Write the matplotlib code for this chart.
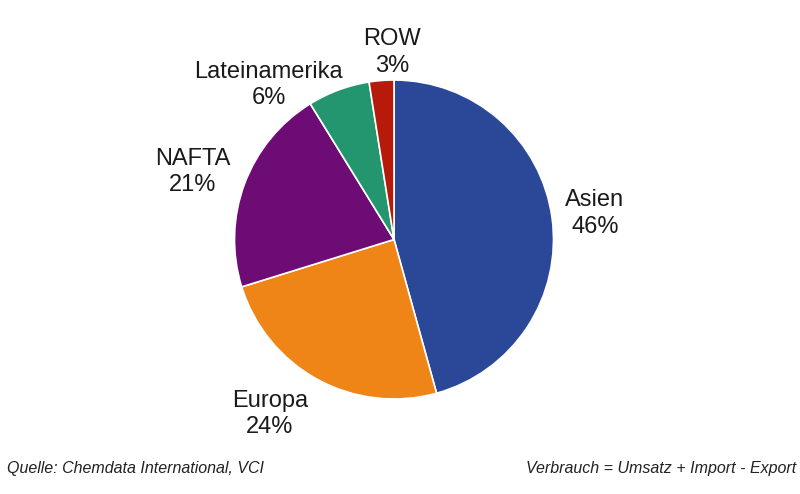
import matplotlib
matplotlib.use("Agg")
import matplotlib.pyplot as plt

labels = ["Asien", "Europa", "NAFTA", "Lateinamerika", "ROW"]
values = [45.7, 24.5, 21.0, 6.3, 2.5]
label_text = ["Asien\n46%", "Europa\n24%", "NAFTA\n21%", "Lateinamerika\n6%", "ROW\n3%"]
colors = ["#2B4797", "#EF8417", "#6C0C74", "#239670", "#B51A0A"]
source_left = "Quelle: Chemdata International, VCI"
source_right = "Verbrauch = Umsatz + Import - Export"

plt.rcParams['font.family'] = ['Liberation Sans', 'DejaVu Sans']
fig = plt.figure(figsize=(8, 4.94), dpi=100)
cx, cy, r = 394, 494 - 239.5, 159.5
ax = fig.add_axes([(cx - r) / 800, (cy - r) / 494, 2 * r / 800, 2 * r / 494])
ax.pie(values, colors=colors, startangle=90, counterclock=False, radius=1,
       wedgeprops=dict(edgecolor="white", linewidth=1.2))
ax.set_xlim(-1, 1)
ax.set_ylim(-1, 1)

label_px = [(595, 213.5), (270, 414), (193, 172), (268.5, 85), (392, 52.5)]
for t, (x, y) in zip(label_text, label_px):
    fig.text(x / 800, 1 - y / 494, t, ha="center", va="center", fontsize=17,
             color="#1a1a1a", linespacing=1.26)

fig.text(7 / 800, 1 - 468 / 494, source_left, ha="left", va="center", fontsize=11.5,
         style="italic", color="#222222")
fig.text(796 / 800, 1 - 468 / 494, source_right, ha="right", va="center", fontsize=11.5,
         style="italic", color="#222222")
fig.savefig("out.png", dpi=100)
